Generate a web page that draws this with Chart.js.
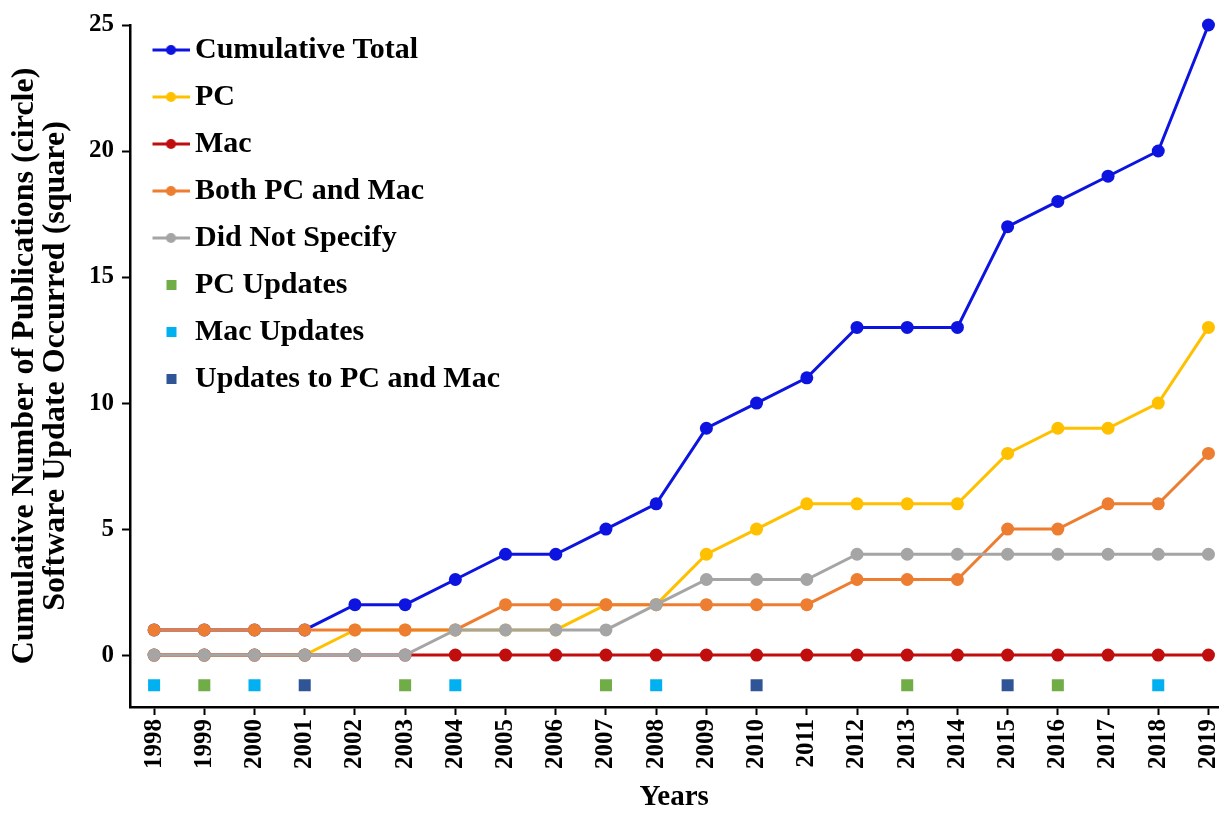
<!DOCTYPE html>
<html>
<head>
<meta charset="utf-8">
<script src="https://cdn.jsdelivr.net/npm/chart.js@4"></script>
<style>
  html, body { margin: 0; padding: 0; background: #fff; }
  #wrap { width: 1227px; height: 815px; }
</style>
</head>
<body>
<div id="wrap"><canvas id="grafico"></canvas></div>
<script>
const years = [1998, 1999, 2000, 2001, 2002, 2003, 2004, 2005, 2006, 2007, 2008,
  2009, 2010, 2011, 2012, 2013, 2014, 2015, 2016, 2017, 2018, 2019];

const cumulativeTotal = [1, 1, 1, 1, 2, 2, 3, 4, 4, 5, 6, 9, 10, 11, 13, 13, 13, 17, 18, 19, 20, 25];
const pc = [0, 0, 0, 0, 1, 1, 1, 1, 1, 2, 2, 4, 5, 6, 6, 6, 6, 8, 9, 9, 10, 13];
const mac = [0, 0, 0, 0, 0, 0, 0, 0, 0, 0, 0, 0, 0, 0, 0, 0, 0, 0, 0, 0, 0, 0];
const bothPcMac = [1, 1, 1, 1, 1, 1, 1, 2, 2, 2, 2, 2, 2, 2, 3, 3, 3, 5, 5, 6, 6, 8];
const didNotSpecify = [0, 0, 0, 0, 0, 0, 1, 1, 1, 1, 2, 3, 3, 3, 4, 4, 4, 4, 4, 4, 4, 4];

// years in which a software update occurred (drawn as squares below zero)
const pcUpdates = [1999, 2003, 2007, 2013, 2016];
const macUpdates = [1998, 2000, 2004, 2008, 2018];
const bothUpdates = [2001, 2010, 2015];
const updateLevel = -1.2;

const yTicks = [0, 5, 10, 15, 20, 25];

const serif = "'Liberation Serif', 'Times New Roman', serif";

const pts = arr => arr.map((v, i) => ({ x: years[i], y: v }));
const marks = arr => arr.map(yr => ({ x: yr, y: updateLevel }));

function lineIcon(color) {
  const c = document.createElement("canvas");
  c.width = 52; c.height = 14;
  const g = c.getContext("2d");
  g.strokeStyle = color; g.lineWidth = 3;
  g.beginPath(); g.moveTo(15, 7); g.lineTo(52, 7); g.stroke();
  g.fillStyle = color;
  g.beginPath(); g.arc(33.5, 7, 5, 0, Math.PI * 2); g.fill();
  return c;
}
function squareIcon(color) {
  const c = document.createElement("canvas");
  c.width = 52; c.height = 14;
  const g = c.getContext("2d");
  g.fillStyle = color;
  g.fillRect(29, 2, 10, 10);
  return c;
}

function lineSet(label, data, color, order) {
  return {
    label: label,
    data: pts(data),
    borderColor: color,
    backgroundColor: color,
    borderWidth: 3,
    pointRadius: 6.5,
    pointHoverRadius: 6.5,
    pointBorderWidth: 0,
    tension: 0,
    clip: false,
    order: order,
    icon: lineIcon(color)
  };
}
function squareSet(label, data, color) {
  return {
    label: label,
    data: marks(data),
    showLine: false,
    borderColor: color,
    backgroundColor: color,
    pointStyle: "rect",
    pointRadius: 8.5,
    pointHoverRadius: 8.5,
    pointBorderWidth: 0,
    order: 0,
    icon: squareIcon(color)
  };
}

const moveLegend = {
  id: "moveLegend",
  afterLayout(chart) { chart.legend.top += 18; }
};

const ctx = document.getElementById("grafico").getContext("2d");
new Chart(ctx, {
  type: "line",
  data: {
    datasets: [
      lineSet("Cumulative Total", cumulativeTotal, "#0D14E0", 5),
      lineSet("PC", pc, "#FFC000", 4),
      lineSet("Mac", mac, "#C00D0D", 3),
      lineSet("Both PC and Mac", bothPcMac, "#ED7D31", 2),
      lineSet("Did Not Specify", didNotSpecify, "#A5A5A5", 1),
      squareSet("PC Updates", pcUpdates, "#70AD47"),
      squareSet("Mac Updates", macUpdates, "#00B0F0"),
      squareSet("Updates to PC and Mac", bothUpdates, "#2F5597")
    ]
  },
  options: {
    responsive: true,
    maintainAspectRatio: false,
    animation: false,
    layout: { padding: { top: 25, right: 0, left: 0, bottom: 0 } },
    plugins: {
      tooltip: { enabled: false },
      legend: {
        position: "chartArea",
        align: "start",
        labels: {
          color: "#000",
          font: { family: serif, size: 30, weight: "bold" },
          usePointStyle: true,
          pointStyleWidth: 33,
          padding: 17,
          sort: (a, b) => a.datasetIndex - b.datasetIndex,
          generateLabels(chart) {
            const items = Chart.defaults.plugins.legend.labels.generateLabels(chart);
            items.forEach(it => {
              it.pointStyle = chart.data.datasets[it.datasetIndex].icon;
              it.lineWidth = 0;
            });
            return items;
          }
        }
      }
    },
    scales: {
      x: {
        type: "linear",
        min: 1997.52,
        max: 2019.2,
        afterFit(s) { s.height = 108; s.paddingLeft = 0; s.paddingRight = 0; },
        afterBuildTicks(s) { s.ticks = years.map(v => ({ value: v })); },
        border: { display: true, color: "#000", width: 2.5 },
        grid: { drawOnChartArea: false, drawTicks: true, tickLength: 8, tickColor: "#000", tickWidth: 2 },
        ticks: {
          color: "#000",
          minRotation: 90,
          maxRotation: 90,
          padding: 4,
          autoSkip: false,
          font: { family: serif, size: 25, weight: "bold" },
          callback: v => String(v)
        },
        title: {
          display: true,
          text: "Years",
          color: "#000",
          padding: { top: 0, bottom: 0 },
          font: { family: serif, size: 29, weight: "bold" }
        }
      },
      y: {
        min: -2.06,
        max: 25,
        afterFit(s) { s.width = 130; },
        afterBuildTicks(s) { s.ticks = yTicks.map(v => ({ value: v })); },
        border: { display: true, color: "#000", width: 2.5 },
        grid: { drawOnChartArea: false, drawTicks: true, tickLength: 8, tickColor: "#000", tickWidth: 2 },
        ticks: {
          color: "#000",
          padding: 8,
          font: { family: serif, size: 25, weight: "bold" }
        },
        title: {
          display: true,
          text: ["Cumulative Number of Publications (circle)", "Software Update Occurred (square)"],
          color: "#000",
          padding: { top: 10, bottom: 0 },
          font: { family: serif, size: 32, weight: "bold", lineHeight: 0.95 }
        }
      }
    }
  },
  plugins: [moveLegend]
});
</script>
</body>
</html>
